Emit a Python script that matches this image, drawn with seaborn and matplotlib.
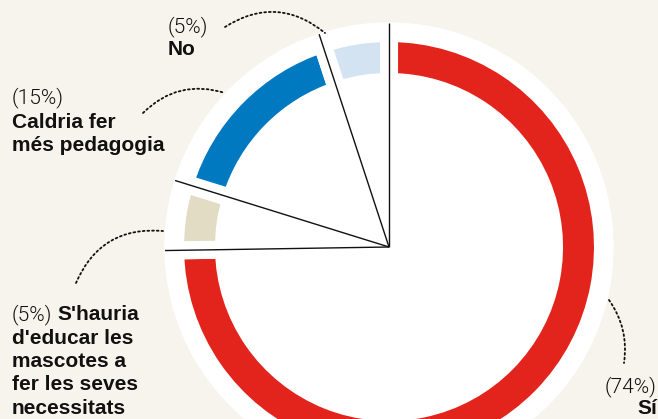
import numpy as np
import matplotlib.pyplot as plt
import seaborn as sns

# survey answers, clockwise from the top
answers = ["Sí", "S'hauria", "Caldria", "No"]
shares = [74, 5, 15, 5]
pct_labels = ["(74%)", "(5%)", "(15%)", "(5%)"]
ring_colors = ["#e3241c", "#e3dcc4", "#0079c1", "#d4e3f1"]

BG = "#f7f4ed"
INK = "#111111"

sns.set_theme(style="white")
plt.rcParams["font.family"] = ["Liberation Sans", "DejaVu Sans"]

fig = plt.figure(figsize=(6.58, 4.19), dpi=100, facecolor=BG)
ax = fig.add_axes([0, 0, 1, 1])
ax.set_facecolor(BG)

# geometry in pixels (y up)
cx, cy = 389, 419 - 247
r_disc = 224

ax.add_patch(plt.Circle((cx, cy), r_disc, color="white", zorder=1))

wedges, _ = ax.pie(
    shares, colors=ring_colors, startangle=90, counterclock=False,
    radius=214, center=(cx, cy),
    wedgeprops=dict(width=49, edgecolor="white", linewidth=13, joinstyle="miter"),
)
for w in wedges:
    w.set_zorder(2)

# radial separators between the answers
cum = np.concatenate([[0], np.cumsum(shares)]) / sum(shares)
for frac in cum[:-1]:
    th = np.deg2rad(90 - 360 * frac)
    ax.plot([cx, cx + r_disc * np.cos(th)], [cy, cy + r_disc * np.sin(th)],
            color=INK, lw=1.0, zorder=3, solid_capstyle="butt")

ax.set_xlim(0, 658)
ax.set_ylim(0, 419)
ax.set_aspect("equal")
ax.axis("off")


def Y(v):
    return 419 - v


light = dict(family=["Roboto", "Liberation Sans"], weight=300, fontsize=15, color=INK, va="baseline")
bold = dict(family=["Liberation Sans"], weight="bold", fontsize=15, color=INK, va="baseline")

# No
ax.text(168, Y(32), pct_labels[3], **light)
ax.text(168, Y(55), "No", **bold)

# Caldria
ax.text(12, Y(103), pct_labels[2], **light)
ax.text(12, Y(128), "Caldria fer", **bold)
ax.text(12, Y(151), "més pedagogia", **bold)

# S'hauria
ax.text(12, Y(320), pct_labels[1], **light)
ax.text(57, Y(320), "S'hauria", **bold)
for i, line in enumerate(["d'educar les", "mascotes a", "fer les seves", "necessitats"]):
    ax.text(12, Y(343.5 + 23.5 * i), line, **bold)

# Sí
ax.text(657, Y(392), pct_labels[0], ha="right", **light)
ax.text(657, Y(414), "Sí", ha="right", **bold)

# dotted leader curves
leaders = [
    ((225, 27), (325, 33), -0.36),
    ((143, 113), (225, 93), -0.3),
    ((76, 283), (163, 231), -0.36),
    ((609, 300), (624, 363), -0.2),
]
for (x0, y0), (x1, y1), rad in leaders:
    ax.annotate("", xy=(x1, Y(y1)), xytext=(x0, Y(y0)),
                arrowprops=dict(arrowstyle="-", color=INK, lw=1.3,
                                linestyle=(0, (1, 1.6)), shrinkA=0, shrinkB=0,
                                connectionstyle=f"arc3,rad={rad}"),
                zorder=4)

fig.savefig("out.png", dpi=100, facecolor=BG)
